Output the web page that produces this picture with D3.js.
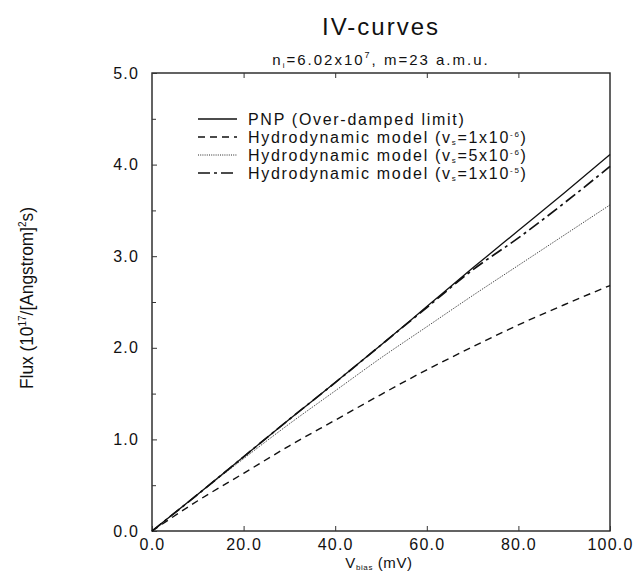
<!DOCTYPE html>
<html>
<head>
<meta charset="utf-8">
<script src="https://cdn.jsdelivr.net/npm/d3@7"></script>
<style>
  html, body { margin: 0; padding: 0; background: #fff; }
  svg { display: block; }
  text { font-family: "Liberation Sans", Arial, sans-serif; fill: #111; }
</style>
</head>
<body>
<svg id="chart" width="638" height="573"></svg>
<script>
// ---- data ----
const vbias = [0, 10, 20, 30, 40, 50, 60, 70, 80, 90, 100];
const fluxPNP    = [0, 0.40, 0.81, 1.22, 1.62, 2.03, 2.45, 2.87, 3.28, 3.69, 4.11];
const fluxHyd1e6 = [0, 0.33, 0.63, 0.93, 1.21, 1.49, 1.76, 2.01, 2.25, 2.47, 2.68];
const fluxHyd5e6 = [0, 0.40, 0.79, 1.17, 1.53, 1.89, 2.23, 2.57, 2.90, 3.23, 3.56];
const fluxHyd1e5 = [0, 0.40, 0.81, 1.22, 1.62, 2.03, 2.44, 2.85, 3.20, 3.58, 3.98];
const xTicks = [0, 20, 40, 60, 80, 100];
const yTicks = [0, 1, 2, 3, 4, 5];
const yMinorTicks = [0.5, 1.5, 2.5, 3.5, 4.5];
const legendLabels = [
  {main: "PNP (Over-damped limit)", mant: null, exp: null},
  {main: "Hydrodynamic model (v", mant: "=1x10", exp: "-6"},
  {main: "Hydrodynamic model (v", mant: "=5x10", exp: "-6"},
  {main: "Hydrodynamic model (v", mant: "=1x10", exp: "-5"}
];

const series = [
  {values: fluxPNP,    dash: null,        width: 1.3, label: legendLabels[0]},
  {values: fluxHyd1e6, dash: "7,5",       width: 1.4, label: legendLabels[1]},
  {values: fluxHyd5e6, dash: "1,1.2",     width: 0.9, label: legendLabels[2]},
  {values: fluxHyd1e5, dash: "12,4,3,4",  width: 1.7, label: legendLabels[3]}
];

// ---- layout ----
const svg = d3.select("#chart");
const L = 152, R = 610, T = 73, B = 531;
const x = d3.scaleLinear().domain([0, 100]).range([L, R]);
const y = d3.scaleLinear().domain([0, 5]).range([B, T]);

// frame
svg.append("rect").attr("x", L).attr("y", T).attr("width", R - L).attr("height", B - T)
  .attr("fill", "none").attr("stroke", "#222").attr("stroke-width", 1.4);

// axes (inward ticks)
const fmt = d3.format(".1f");
const gx = svg.append("g").attr("transform", `translate(0,${B})`)
  .call(d3.axisBottom(x).tickValues(xTicks).tickSize(-5).tickPadding(8).tickFormat(fmt));
const gxTop = svg.append("g").attr("transform", `translate(0,${T})`)
  .call(d3.axisTop(x).tickValues(xTicks.slice(1, -1)).tickSize(-5).tickFormat(""));
const gy = svg.append("g").attr("transform", `translate(${L},0)`)
  .call(d3.axisLeft(y).tickValues(yTicks).tickSize(-5).tickPadding(13).tickFormat(fmt));
const gyMinor = svg.append("g").attr("transform", `translate(${L},0)`)
  .call(d3.axisLeft(y).tickValues(yMinorTicks).tickSize(-4).tickFormat(""));
[gx, gxTop, gy, gyMinor].forEach(g => {
  g.select(".domain").remove();
  g.selectAll(".tick line").attr("stroke", "#333").attr("stroke-width", 1);
  g.selectAll(".tick text").attr("font-size", 16).attr("fill", "#111")
    .style("letter-spacing", "1.2px");
});

// lines
const line = d3.line().x((d, i) => x(vbias[i])).y(d => y(d)).curve(d3.curveMonotoneX);
series.forEach(s => {
  svg.append("path").datum(s.values).attr("d", line)
    .attr("fill", "none").attr("stroke", "#111").attr("stroke-width", s.width)
    .attr("stroke-dasharray", s.dash);
});

// legend
const lg = svg.append("g");
const rowY = [119, 137, 155, 173];
series.forEach((s, i) => {
  lg.append("line").attr("x1", 198).attr("x2", 237).attr("y1", rowY[i]).attr("y2", rowY[i])
    .attr("stroke", "#111").attr("stroke-width", s.width).attr("stroke-dasharray", s.dash);
  const t = lg.append("text").attr("x", 248).attr("y", rowY[i] + 5.5).attr("font-size", 16)
    .style("letter-spacing", "1.7px");
  t.append("tspan").text(s.label.main);
  if (s.label.mant) {
    t.append("tspan").attr("font-size", 8).attr("dy", 2.5).text("s");
    t.append("tspan").attr("font-size", 16).attr("dy", -2.5).text(s.label.mant);
    t.append("tspan").attr("font-size", 8).attr("dy", -6).text(s.label.exp);
    t.append("tspan").attr("font-size", 16).attr("dy", 6).text(")");
  }
});

// title & subtitle
const cx = (L + R) / 2;
svg.append("text").attr("x", cx).attr("y", 35).attr("text-anchor", "middle")
  .attr("font-size", 24).style("letter-spacing", "2px").text("IV-curves");
const sub = svg.append("text").attr("x", cx).attr("y", 65).attr("text-anchor", "middle")
  .attr("font-size", 15).style("letter-spacing", "2px");
sub.append("tspan").text("n");
sub.append("tspan").attr("font-size", 8).attr("dy", 3).text("i");
sub.append("tspan").attr("dy", -3).text("=6.02x10");
sub.append("tspan").attr("font-size", 9).attr("dy", -7).text("7");
sub.append("tspan").attr("dy", 7).text(", m=23 a.m.u.");

// x label
const xl = svg.append("text").attr("x", cx - 2).attr("y", 568).attr("text-anchor", "middle")
  .attr("font-size", 15).style("letter-spacing", "0.6px");
xl.append("tspan").text("V");
xl.append("tspan").attr("font-size", 8).attr("dy", 2).text("bias");
xl.append("tspan").attr("dy", -2).text(" (mV)");

// y label
const yl = svg.append("text").attr("transform", `translate(33,298) rotate(-90)`)
  .attr("text-anchor", "middle").attr("font-size", 19)
  .attr("textLength", 182).attr("lengthAdjust", "spacingAndGlyphs");
yl.append("tspan").text("Flux (10");
yl.append("tspan").attr("font-size", 11).attr("dy", -7).text("17");
yl.append("tspan").attr("dy", 7).text("/[Angstrom]");
yl.append("tspan").attr("font-size", 11).attr("dy", -7).text("2");
yl.append("tspan").attr("dy", 7).text("s)");
</script>
</body>
</html>
